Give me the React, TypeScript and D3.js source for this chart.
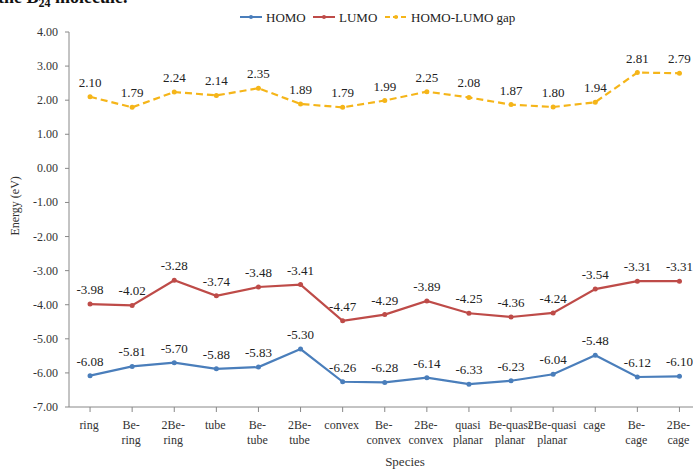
import React from "react";
import * as d3 from "d3";

const species = [
  ["ring"], ["Be-", "ring"], ["2Be-", "ring"], ["tube"], ["Be-", "tube"], ["2Be-", "tube"],
  ["convex"], ["Be-", "convex"], ["2Be-", "convex"], ["quasi", "planar"], ["Be-quasi", "planar"],
  ["2Be-quasi", "planar"], ["cage"], ["Be-", "cage"], ["2Be-", "cage"],
];
const homo = [-6.08, -5.81, -5.7, -5.88, -5.83, -5.3, -6.26, -6.28, -6.14, -6.33, -6.23, -6.04, -5.48, -6.12, -6.1];
const lumo = [-3.98, -4.02, -3.28, -3.74, -3.48, -3.41, -4.47, -4.29, -3.89, -4.25, -4.36, -4.24, -3.54, -3.31, -3.31];
const gap = [2.1, 1.79, 2.24, 2.14, 2.35, 1.89, 1.79, 1.99, 2.25, 2.08, 1.87, 1.8, 1.94, 2.81, 2.79];
const yTicks = [4, 3, 2, 1, 0, -1, -2, -3, -4, -5, -6, -7];

const W = 693, H = 469;
const FONT = "'Liberation Serif', 'Times New Roman', serif";

const series = [
  { name: "HOMO", values: homo, color: "#4a7ebb", dash: "" },
  { name: "LUMO", values: lumo, color: "#be4b48", dash: "" },
  { name: "HOMO-LUMO gap", values: gap, color: "#f5b519", dash: "7,4" },
];

export default function App() {
  const x0 = 69, x1 = 700.5;
  const x = d3.scaleBand<number>().domain(d3.range(species.length)).range([x0, x1]);
  const cx = (i: number) => (x(i) as number) + x.bandwidth() / 2;
  const y = d3.scaleLinear().domain([-7, 4]).range([407, 32]);
  const line = d3.line<number>().x((_, i) => cx(i)).y((d) => y(d));

  const legendX = [240, 313, 385];

  return (
    <svg width={W} height={H} style={{ position: "absolute", left: 0, top: 0, background: "#fff" }} fontFamily={FONT}>
      <text x={-2} y={2.5} fontSize={18} fontWeight="bold" fill="#111">
        the B<tspan fontSize={12} dy={4}>24</tspan><tspan dy={-4}> molecule.</tspan>
      </text>

      {/* legend */}
      {series.map((s, k) => (
        <g key={s.name} transform={`translate(${legendX[k]},17)`}>
          <line x1={0} x2={22} y1={0} y2={0} stroke={s.color} strokeWidth={2} strokeDasharray={s.dash ? "5,3" : ""} />
          <circle cx={11} cy={0} r={2} fill={s.color} />
          <text x={26} y={4.5} fontSize={13} fill="#222">{s.name}</text>
        </g>
      ))}

      {/* y axis */}
      <line x1={x0} x2={x0} y1={y(4)} y2={y(-7)} stroke="#888" />
      {yTicks.map((t) => (
        <g key={t}>
          <line x1={x0 - 4} x2={x0} y1={y(t)} y2={y(t)} stroke="#888" />
          <text x={x0 - 11} y={y(t) + 4} fontSize={12} textAnchor="end" fill="#333">{t.toFixed(2)}</text>
        </g>
      ))}
      <text transform={`translate(19,${y(-1.1)}) rotate(-90)`} fontSize={12} textAnchor="middle" fill="#333">Energy (eV)</text>

      {/* x axis */}
      <line x1={x0} x2={W} y1={y(-7)} y2={y(-7)} stroke="#888" />
      {species.map((lab, i) => (
        <g key={i}>
          <line x1={cx(i)} x2={cx(i)} y1={y(-7)} y2={y(-7) + 5} stroke="#888" />
          {lab.map((t, j) => (
            <text key={j} x={cx(i) - 1} y={429 + j * 15} fontSize={12} textAnchor="middle" fill="#333">{t}</text>
          ))}
        </g>
      ))}
      <text x={405} y={466} fontSize={13} textAnchor="middle" fill="#333">Species</text>

      {/* series */}
      {series.map((s) => (
        <g key={s.name}>
          <path d={line(s.values) as string} fill="none" stroke={s.color} strokeWidth={2.2} strokeDasharray={s.dash} />
          {s.values.map((v, i) => (
            <circle key={i} cx={cx(i)} cy={y(v)} r={2.5} fill={s.color} />
          ))}
          {s.values.map((v, i) => (
            <text key={"l" + i} x={cx(i)} y={y(v) - 10} fontSize={13} textAnchor="middle" fill="#222">{v.toFixed(2)}</text>
          ))}
        </g>
      ))}
    </svg>
  );
}
